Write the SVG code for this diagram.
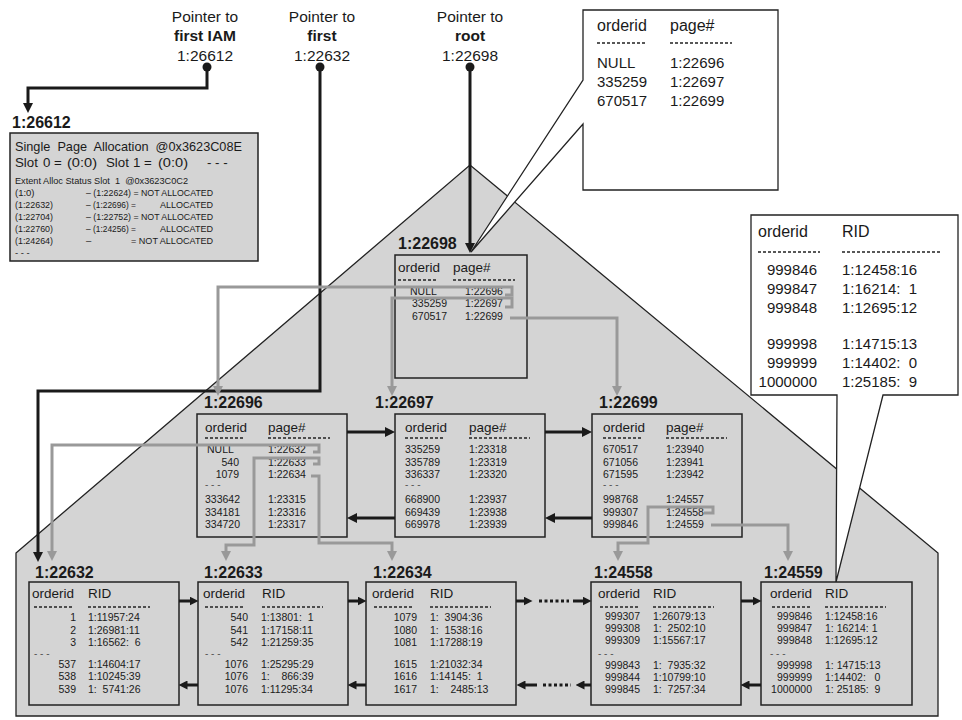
<svg xmlns="http://www.w3.org/2000/svg" width="962" height="720" viewBox="0 0 962 720">
<defs>
<style>
text{font-family:'Liberation Sans',Arial,sans-serif;fill:#1a1a1a;white-space:pre}
.ptr{font-size:15.5px}
.b{font-weight:bold}
.lbl{font-size:16px;font-weight:bold}
.hdr{font-size:13.5px}
.dat{font-size:10.5px}
.end{text-anchor:end}
.mid{text-anchor:middle}
.co{font-size:15px}
.coh{font-size:16px}
.sep{font-size:10px;fill:#555}
.iam{font-size:13.3px}
.iams{font-size:9.5px}
.box{fill:#d4d4d4;stroke:#222;stroke-width:1.5}
.dash{stroke:#222;stroke-width:1.3;stroke-dasharray:3 2;fill:none}
.blk{stroke:#1a1a1a;stroke-width:3;fill:none}
.gry{stroke:#999;stroke-width:3;fill:none}
.dot{stroke:#1a1a1a;stroke-width:3;stroke-dasharray:3 2.5;fill:none}
.call{fill:#fff;stroke:#222;stroke-width:1.3}
</style>
<marker id="ab" viewBox="0 0 10 10" refX="5" refY="5" markerWidth="10" markerHeight="10" markerUnits="userSpaceOnUse" orient="auto"><path d="M0,0 L10,5 L0,10 Z" fill="#1a1a1a"/></marker>
<marker id="as" viewBox="0 0 10 10" refX="5" refY="5" markerWidth="9" markerHeight="9" markerUnits="userSpaceOnUse" orient="auto"><path d="M0,0 L10,5 L0,10 Z" fill="#1a1a1a"/></marker>
<marker id="ag" viewBox="0 0 10 10" refX="5" refY="5" markerWidth="10" markerHeight="10" markerUnits="userSpaceOnUse" orient="auto"><path d="M0,0 L10,5 L0,10 Z" fill="#999"/></marker>
</defs>

<rect width="962" height="720" fill="#fff"/>

<!-- house background -->
<polygon id="house" points="16,553 470,165 938,553 938,716 16,716" fill="#d4d4d4" stroke="#222" stroke-width="1.3"/>

<!-- callouts -->
<g id="callout-root">
<path class="call" d="M583,10 H778 V190 H583 V124 L471,252 L583,80 Z"/>
<text class="coh" x="597" y="31">orderid</text>
<text class="coh" x="670" y="31">page#</text>
<line class="dash" x1="597" y1="43" x2="647" y2="43"/>
<line class="dash" x1="670" y1="43" x2="732" y2="43"/>
<text class="co" x="597" y="68">NULL</text>
<text class="co" x="597" y="87">335259</text>
<text class="co" x="597" y="106">670517</text>
<text class="co" x="670" y="68">1:22696</text>
<text class="co" x="670" y="87">1:22697</text>
<text class="co" x="670" y="106">1:22699</text>
</g>

<g id="callout-leaf">
<path class="call" d="M751,215 H958 V395 H883 L836,582 L837,395 H751 Z"/>
<text class="coh" x="758" y="237">orderid</text>
<text class="coh" x="842" y="237">RID</text>
<line class="dash" x1="758" y1="252" x2="820" y2="252"/>
<line class="dash" x1="842" y1="252" x2="940" y2="252"/>
<text class="co end" x="817" y="275">999846</text>
<text class="co end" x="817" y="294">999847</text>
<text class="co end" x="817" y="313">999848</text>
<text class="co end" x="817" y="349">999998</text>
<text class="co end" x="817" y="368">999999</text>
<text class="co end" x="817" y="387">1000000</text>
<text class="co" x="842" y="275">1:12458:16</text>
<text class="co" x="842" y="294">1:16214:  1</text>
<text class="co" x="842" y="313">1:12695:12</text>
<text class="co" x="842" y="349">1:14715:13</text>
<text class="co" x="842" y="368">1:14402:  0</text>
<text class="co" x="842" y="387">1:25185:  9</text>
</g>

<!-- pointer labels -->
<g id="ptr-iam">
<text class="ptr mid" x="205" y="22">Pointer to</text>
<text class="ptr mid b" x="205" y="41">first IAM</text>
<text class="ptr mid" x="205" y="61">1:26612</text>
<circle cx="207" cy="67" r="4.5" fill="#1a1a1a"/>
</g>
<g id="ptr-first">
<text class="ptr mid" x="322" y="22">Pointer to</text>
<text class="ptr mid b" x="322" y="41">first</text>
<text class="ptr mid" x="322" y="61">1:22632</text>
<circle cx="320" cy="67" r="4.5" fill="#1a1a1a"/>
</g>
<g id="ptr-root">
<text class="ptr mid" x="470" y="22">Pointer to</text>
<text class="ptr mid b" x="470" y="41">root</text>
<text class="ptr mid" x="470" y="61">1:22698</text>
<circle cx="470" cy="67" r="4.5" fill="#1a1a1a"/>
</g>

<!-- IAM page -->
<g id="iam">
<text class="lbl" x="12" y="128">1:26612</text>
<rect class="box" x="10" y="133" width="248" height="128"/>
<text class="iam" x="15" y="151" textLength="227" lengthAdjust="spacingAndGlyphs">Single  Page  Allocation  @0x3623C08E</text>
<text class="iam" x="15" y="167">Slot</text>
<text class="iam" x="43" y="167">0 =</text>
<text class="iam" x="67" y="167" textLength="30" lengthAdjust="spacingAndGlyphs">(0:0)</text>
<text class="iam" x="106" y="167">Slot</text>
<text class="iam" x="133" y="167">1</text>
<text class="iam" x="144" y="167">=</text>
<text class="iam" x="158" y="167" textLength="30" lengthAdjust="spacingAndGlyphs">(0:0)</text>
<text class="iam" x="207" y="167">- - -</text>
<text class="iams" x="15" y="184" textLength="173" lengthAdjust="spacingAndGlyphs">Extent Alloc Status Slot  1  @0x3623C0C2</text>
<text class="iams" x="15" y="196">(1:0)</text>
<text class="iams" x="86" y="196" textLength="127" lengthAdjust="spacingAndGlyphs">– (1:22624) = NOT ALLOCATED</text>
<text class="iams" x="15" y="208" textLength="38" lengthAdjust="spacingAndGlyphs">(1:22632)</text>
<text class="iams" x="86" y="208" textLength="50" lengthAdjust="spacingAndGlyphs">– (1:22696) =</text>
<text class="iams" x="160" y="208" textLength="53" lengthAdjust="spacingAndGlyphs">ALLOCATED</text>
<text class="iams" x="15" y="220" textLength="38" lengthAdjust="spacingAndGlyphs">(1:22704)</text>
<text class="iams" x="86" y="220" textLength="127" lengthAdjust="spacingAndGlyphs">– (1:22752) = NOT ALLOCATED</text>
<text class="iams" x="15" y="232" textLength="38" lengthAdjust="spacingAndGlyphs">(1:22760)</text>
<text class="iams" x="86" y="232" textLength="50" lengthAdjust="spacingAndGlyphs">– (1:24256) =</text>
<text class="iams" x="160" y="232" textLength="53" lengthAdjust="spacingAndGlyphs">ALLOCATED</text>
<text class="iams" x="15" y="244" textLength="38" lengthAdjust="spacingAndGlyphs">(1:24264)</text>
<text class="iams" x="86" y="244">–</text>
<text class="iams" x="131" y="244" textLength="82" lengthAdjust="spacingAndGlyphs">= NOT ALLOCATED</text>
<text class="iams" x="15" y="256">- - -</text>
</g>

<!-- root -->
<g id="n22698">
<text class="lbl" x="398" y="249">1:22698</text>
<rect class="box" x="395" y="255" width="132" height="123"/>
<text class="hdr" x="398" y="272">orderid</text>
<text class="hdr" x="453" y="272">page#</text>
<line class="dash" x1="398" y1="280" x2="438" y2="280"/>
<line class="dash" x1="453" y1="280" x2="515" y2="280"/>
<text class="dat" x="410" y="295">NULL</text>
<text class="dat" x="412" y="307">335259</text>
<text class="dat" x="412" y="320">670517</text>
<text class="dat" x="465" y="295">1:22696</text>
<text class="dat" x="465" y="307">1:22697</text>
<text class="dat" x="465" y="320">1:22699</text>
</g>

<!-- level 1 -->
<g id="n22696">
<text class="lbl" x="204" y="408">1:22696</text>
<rect class="box" x="197" y="414" width="150" height="123"/>
<text class="hdr" x="205" y="432">orderid</text>
<text class="hdr" x="268" y="432">page#</text>
<line class="dash" x1="205" y1="438" x2="245" y2="438"/>
<line class="dash" x1="268" y1="438" x2="330" y2="438"/>
<text class="dat" x="207" y="453">NULL</text>
<text class="dat end" x="239" y="466">540</text>
<text class="dat end" x="239" y="478">1079</text>
<text class="sep" x="205" y="488">- - -</text>
<text class="dat" x="205" y="503">333642</text>
<text class="dat" x="205" y="516">334181</text>
<text class="dat" x="205" y="528">334720</text>
<text class="dat" x="268" y="453">1:22632</text>
<text class="dat" x="268" y="466">1:22633</text>
<text class="dat" x="268" y="478">1:22634</text>
<text class="dat" x="268" y="503">1:23315</text>
<text class="dat" x="268" y="516">1:23316</text>
<text class="dat" x="268" y="528">1:23317</text>
</g>

<g id="n22697">
<text class="lbl" x="375" y="408">1:22697</text>
<rect class="box" x="395" y="414" width="150" height="123"/>
<text class="hdr" x="405" y="432">orderid</text>
<text class="hdr" x="469" y="432">page#</text>
<line class="dash" x1="405" y1="438" x2="445" y2="438"/>
<line class="dash" x1="469" y1="438" x2="530" y2="438"/>
<text class="dat" x="405" y="453">335259</text>
<text class="dat" x="405" y="466">335789</text>
<text class="dat" x="405" y="478">336337</text>
<text class="sep" x="405" y="488">- - -</text>
<text class="dat" x="405" y="503">668900</text>
<text class="dat" x="405" y="516">669439</text>
<text class="dat" x="405" y="528">669978</text>
<text class="dat" x="469" y="453">1:23318</text>
<text class="dat" x="469" y="466">1:23319</text>
<text class="dat" x="469" y="478">1:23320</text>
<text class="dat" x="469" y="503">1:23937</text>
<text class="dat" x="469" y="516">1:23938</text>
<text class="dat" x="469" y="528">1:23939</text>
</g>

<g id="n22699">
<text class="lbl" x="599" y="408">1:22699</text>
<rect class="box" x="592" y="414" width="150" height="123"/>
<text class="hdr" x="603" y="432">orderid</text>
<text class="hdr" x="666" y="432">page#</text>
<line class="dash" x1="603" y1="438" x2="643" y2="438"/>
<line class="dash" x1="666" y1="438" x2="727" y2="438"/>
<text class="dat" x="603" y="453">670517</text>
<text class="dat" x="603" y="466">671056</text>
<text class="dat" x="603" y="478">671595</text>
<text class="sep" x="603" y="488">- - -</text>
<text class="dat" x="603" y="503">998768</text>
<text class="dat" x="603" y="516">999307</text>
<text class="dat" x="603" y="528">999846</text>
<text class="dat" x="666" y="453">1:23940</text>
<text class="dat" x="666" y="466">1:23941</text>
<text class="dat" x="666" y="478">1:23942</text>
<text class="dat" x="666" y="503">1:24557</text>
<text class="dat" x="666" y="516">1:24558</text>
<text class="dat" x="666" y="528">1:24559</text>
</g>

<!-- leaves -->
<g id="n22632">
<text class="lbl" x="35" y="578">1:22632</text>
<rect class="box" x="29" y="582" width="150" height="123"/>
<text class="hdr" x="32" y="598">orderid</text>
<text class="hdr" x="88" y="598">RID</text>
<line class="dash" x1="34" y1="607" x2="73" y2="607"/>
<line class="dash" x1="88" y1="607" x2="150" y2="607"/>
<text class="dat end" x="76" y="621">1</text>
<text class="dat end" x="76" y="634">2</text>
<text class="dat end" x="76" y="646">3</text>
<text class="sep" x="34" y="657">- - -</text>
<text class="dat end" x="76" y="668">537</text>
<text class="dat end" x="76" y="680">538</text>
<text class="dat end" x="76" y="693">539</text>
<text class="dat" x="88" y="621">1:11957:24</text>
<text class="dat" x="88" y="634">1:26981:11</text>
<text class="dat" x="88" y="646">1:16562:  6</text>
<text class="dat" x="88" y="668">1:14604:17</text>
<text class="dat" x="88" y="680">1:10245:39</text>
<text class="dat" x="88" y="693">1:  5741:26</text>
</g>

<g id="n22633">
<text class="lbl" x="204" y="578">1:22633</text>
<rect class="box" x="198" y="582" width="150" height="123"/>
<text class="hdr" x="203" y="598">orderid</text>
<text class="hdr" x="262" y="598">RID</text>
<line class="dash" x1="205" y1="607" x2="245" y2="607"/>
<line class="dash" x1="262" y1="607" x2="323" y2="607"/>
<text class="dat end" x="248" y="621">540</text>
<text class="dat end" x="248" y="634">541</text>
<text class="dat end" x="248" y="646">542</text>
<text class="sep" x="205" y="657">- - -</text>
<text class="dat end" x="248" y="668">1076</text>
<text class="dat end" x="248" y="680">1076</text>
<text class="dat end" x="248" y="693">1076</text>
<text class="dat" x="261" y="621">1:13801:  1</text>
<text class="dat" x="261" y="634">1:17158:11</text>
<text class="dat" x="261" y="646">1:21259:35</text>
<text class="dat" x="261" y="668">1:25295:29</text>
<text class="dat" x="261" y="680">1:    866:39</text>
<text class="dat" x="261" y="693">1:11295:34</text>
</g>

<g id="n22634">
<text class="lbl" x="373" y="578">1:22634</text>
<rect class="box" x="366" y="582" width="150" height="123"/>
<text class="hdr" x="372" y="598">orderid</text>
<text class="hdr" x="430" y="598">RID</text>
<line class="dash" x1="374" y1="607" x2="413" y2="607"/>
<line class="dash" x1="430" y1="607" x2="491" y2="607"/>
<text class="dat end" x="417" y="621">1079</text>
<text class="dat end" x="417" y="634">1080</text>
<text class="dat end" x="417" y="646">1081</text>
<text class="dat end" x="417" y="668">1615</text>
<text class="dat end" x="417" y="680">1616</text>
<text class="dat end" x="417" y="693">1617</text>
<text class="dat" x="430" y="621">1:  3904:36</text>
<text class="dat" x="430" y="634">1:  1538:16</text>
<text class="dat" x="430" y="646">1:17288:19</text>
<text class="dat" x="430" y="668">1:21032:34</text>
<text class="dat" x="430" y="680">1:14145:  1</text>
<text class="dat" x="430" y="693">1:    2485:13</text>
</g>

<g id="n24558">
<text class="lbl" x="594" y="578">1:24558</text>
<rect class="box" x="591" y="582" width="150" height="123"/>
<text class="hdr" x="598" y="598">orderid</text>
<text class="hdr" x="653" y="598">RID</text>
<line class="dash" x1="600" y1="607" x2="640" y2="607"/>
<line class="dash" x1="653" y1="607" x2="714" y2="607"/>
<text class="dat end" x="640" y="620">999307</text>
<text class="dat end" x="640" y="632">999308</text>
<text class="dat end" x="640" y="644">999309</text>
<text class="sep" x="598" y="657">- - -</text>
<text class="dat end" x="640" y="669">999843</text>
<text class="dat end" x="640" y="681">999844</text>
<text class="dat end" x="640" y="693">999845</text>
<text class="dat" x="653" y="620">1:26079:13</text>
<text class="dat" x="653" y="632">1:  2502:10</text>
<text class="dat" x="653" y="644">1:15567:17</text>
<text class="dat" x="653" y="669">1:  7935:32</text>
<text class="dat" x="653" y="681">1:10799:10</text>
<text class="dat" x="653" y="693">1:  7257:34</text>
</g>

<g id="n24559">
<text class="lbl" x="764" y="578">1:24559</text>
<rect class="box" x="761" y="582" width="151" height="123"/>
<text class="hdr" x="770" y="598">orderid</text>
<text class="hdr" x="825" y="598">RID</text>
<line class="dash" x1="772" y1="607" x2="811" y2="607"/>
<line class="dash" x1="825" y1="607" x2="886" y2="607"/>
<text class="dat end" x="812" y="620">999846</text>
<text class="dat end" x="812" y="632">999847</text>
<text class="dat end" x="812" y="644">999848</text>
<text class="sep" x="770" y="657">- - -</text>
<text class="dat end" x="812" y="669">999998</text>
<text class="dat end" x="812" y="681">999999</text>
<text class="dat end" x="812" y="693">1000000</text>
<text class="dat" x="825" y="620">1:12458:16</text>
<text class="dat" x="825" y="632">1: 16214: 1</text>
<text class="dat" x="825" y="644">1:12695:12</text>
<text class="dat" x="825" y="669">1: 14715:13</text>
<text class="dat" x="825" y="681">1:14402:   0</text>
<text class="dat" x="825" y="693">1: 25185:  9</text>
</g>

<!-- connectors -->
<g id="connectors">
<path class="blk" d="M207,67 V88 H28 V108" marker-end="url(#ab)"/>
<path class="blk" d="M320,67 V391 H38 V557" marker-end="url(#ab)"/>
<path class="blk" d="M470,67 V248" marker-end="url(#ab)"/>

<path class="gry" d="M505,295 H512 V287 H218 V391" marker-end="url(#ag)"/>
<path class="gry" d="M505,307 H512 V298 H392 V391" marker-end="url(#ag)"/>
<path class="gry" d="M510,318 H617 V391" marker-end="url(#ag)"/>

<path class="gry" d="M313,452 H319 V445 H52 V556" marker-end="url(#ag)"/>
<path class="gry" d="M313,464 H319 V458 H254 V545 H226 V556" marker-end="url(#ag)"/>
<path class="gry" d="M311,476 H319 V543 H392 V556" marker-end="url(#ag)"/>
<path class="gry" d="M704,513 H713 V507 H648 V543 H618 V556" marker-end="url(#ag)"/>
<path class="gry" d="M711,525 H788 V556" marker-end="url(#ag)"/>

<path class="blk" d="M347,432 H390" marker-end="url(#ab)"/>
<path class="blk" d="M545,432 H587" marker-end="url(#ab)"/>
<path class="blk" d="M395,518 H352" marker-end="url(#ab)"/>
<path class="blk" d="M592,518 H550" marker-end="url(#ab)"/>

<path class="blk" d="M179,601 H194" marker-end="url(#as)"/>
<path class="blk" d="M348,601 H362" marker-end="url(#as)"/>
<path class="blk" d="M516,601 H528" marker-end="url(#as)"/>
<path class="dot" d="M539,601 H569"/>
<path class="blk" d="M573,601 H587" marker-end="url(#as)"/>
<path class="blk" d="M741,601 H757" marker-end="url(#as)"/>

<path class="blk" d="M198,685 H183" marker-end="url(#as)"/>
<path class="blk" d="M366,685 H352" marker-end="url(#as)"/>
<path class="blk" d="M537,685 H521" marker-end="url(#as)"/>
<path class="dot" d="M543,685 H571"/>
<path class="blk" d="M591,685 H580" marker-end="url(#as)"/>
<path class="blk" d="M761,685 H745" marker-end="url(#as)"/>
</g>
</svg>
